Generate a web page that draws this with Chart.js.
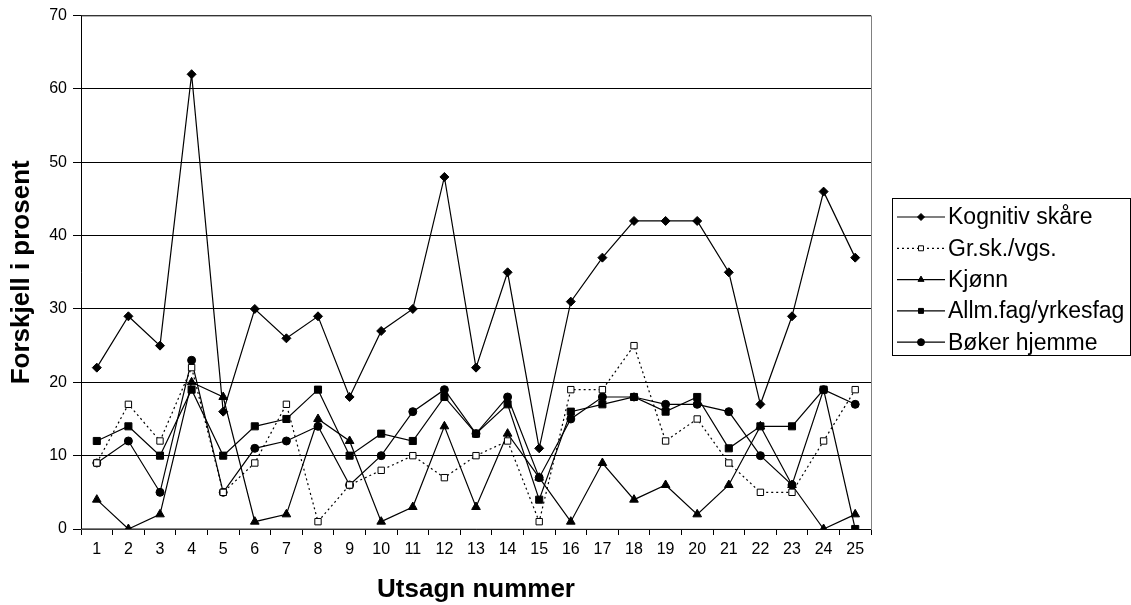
<!DOCTYPE html>
<html>
<head>
<meta charset="utf-8">
<script src="https://cdn.jsdelivr.net/npm/chart.js@4/dist/chart.umd.min.js"></script>
<style>
  html, body { margin: 0; padding: 0; background: #fff; }
  #wrap { width: 1131px; height: 605px; position: relative; }
</style>
</head>
<body>
<div id="wrap"><canvas id="chartCanvas" width="1131" height="605"></canvas></div>
<script>
let labels = ['1','2','3','4','5','6','7','8','9','10','11','12','13','14','15','16','17','18','19','20','21','22','23','24','25'];
let yTicks = [0, 10, 20, 30, 40, 50, 60, 70];

let kognitiv = [22, 29, 25, 62, 16, 30, 26, 29, 18, 27, 30, 48, 22, 35, 11, 31, 37, 42, 42, 42, 35, 17, 29, 46, 37];
let grskVgs  = [9, 17, 12, 22, 5, 9, 17, 1, 6, 8, 10, 7, 10, 12, 1, 19, 19, 25, 12, 15, 9, 5, 5, 12, 19];
let kjonn    = [4, 0, 2, 20, 18, 1, 2, 15, 12, 1, 3, 14, 3, 13, 7, 1, 9, 4, 6, 2, 6, 14, 6, 0, 2];
let allmFag  = [12, 14, 10, 19, 10, 14, 15, 19, 10, 13, 12, 18, 13, 17, 4, 16, 17, 18, 16, 18, 11, 14, 14, 19, 0];
let boker    = [9, 12, 5, 23, 5, 11, 12, 14, 6, 10, 16, 19, 13, 18, 7, 15, 18, 18, 17, 17, 16, 10, 6, 19, 17];

let seriesNames = ['Kognitiv skåre', 'Gr.sk./vgs.', 'Kjønn', 'Allm.fag/yrkesfag', 'Bøker hjemme'];

let makeSet = function (name, values, style, radius, fill, dash) {
    return {
        label: name,
        data: values,
        borderColor: '#000',
        borderWidth: 1.2,
        borderDash: dash || [],
        pointStyle: style,
        pointRadius: radius,
        pointBackgroundColor: fill,
        pointBorderColor: '#000',
        pointBorderWidth: 1,
        tension: 0,
        fill: false
    };
};

let datasets = [
    makeSet(seriesNames[0], kognitiv, 'rectRot', 4.5, '#000'),
    makeSet(seriesNames[1], grskVgs, 'rect', 4.5, '#fff', [2, 3]),
    makeSet(seriesNames[2], kjonn, 'triangle', 5, '#000'),
    makeSet(seriesNames[3], allmFag, 'rect', 5, '#000'),
    makeSet(seriesNames[4], boker, 'circle', 4, '#000')
];

// plot border and custom Excel-like legend
let excelLegend = {
    id: 'excelLegend',
    beforeDatasetsDraw: function (chart) {
        let a = chart.chartArea;
        let ctx = chart.ctx;
        ctx.save();
        ctx.strokeStyle = '#808080';
        ctx.lineWidth = 1;
        ctx.strokeRect(a.left + 0.5, a.top + 0.5, a.right - a.left, a.bottom - a.top);
        ctx.strokeStyle = '#000';
        ctx.beginPath();
        ctx.moveTo(a.left + 0.5, a.top);
        ctx.lineTo(a.left + 0.5, a.bottom);
        ctx.lineTo(a.right, a.bottom + 0.5);
        ctx.stroke();
        ctx.restore();
    },
    afterDraw: function (chart) {
        let ctx = chart.ctx;
        let bx = 892, by = 198, bw = 238, bh = 157;
        ctx.save();
        ctx.strokeStyle = '#000';
        ctx.lineWidth = 1;
        ctx.strokeRect(bx + 0.5, by + 0.5, bw, bh);
        ctx.font = '23px "Liberation Sans", Arial, sans-serif';
        ctx.fillStyle = '#000';
        ctx.textBaseline = 'middle';
        chart.data.datasets.forEach(function (ds, i) {
            let y = 217 + i * 31.3;
            ctx.save();
            ctx.strokeStyle = '#000';
            ctx.lineWidth = 1.2;
            ctx.setLineDash(ds.borderDash);
            ctx.beginPath();
            ctx.moveTo(897, y);
            ctx.lineTo(945, y);
            ctx.stroke();
            ctx.setLineDash([]);
            ctx.fillStyle = ds.pointBackgroundColor;
            ctx.strokeStyle = '#000';
            ctx.lineWidth = 1;
            Chart.helpers.drawPoint(ctx, { pointStyle: ds.pointStyle, radius: 3.5, borderWidth: 1, rotation: 0 }, 921, y);
            ctx.restore();
            ctx.fillText(ds.label, 948, y + 1);
        });
        ctx.restore();
    }
};

let ctx = document.getElementById('chartCanvas').getContext('2d');

window.lineChart = new Chart(ctx, {
    type: 'line',
    data: { labels: labels, datasets: datasets },
    plugins: [excelLegend],
    options: {
        responsive: false,
        animation: false,
        layout: { padding: { left: 0, right: 260, top: 15, bottom: 0 } },
        plugins: {
            legend: { display: false },
            tooltip: { enabled: false }
        },
        scales: {
            x: {
                offset: true,
                afterFit: function (s) { s.height = 76; },
                grid: {
                    offset: true,
                    drawOnChartArea: false,
                    drawTicks: true,
                    tickLength: 6,
                    color: '#000'
                },
                border: { display: false },
                ticks: {
                    color: '#000',
                    font: { family: '"Liberation Sans", Arial', size: 16 },
                    padding: 5,
                    maxRotation: 0,
                    autoSkip: false
                },
                title: {
                    display: true,
                    text: 'Utsagn nummer',
                    color: '#000',
                    font: { family: '"Liberation Sans", Arial', size: 26, weight: 'bold' },
                    padding: { top: 8, bottom: 0 }
                }
            },
            y: {
                min: 0,
                max: 70,
                afterFit: function (s) { s.width = 81; },
                afterBuildTicks: function (s) { s.ticks = yTicks.map(function (v) { return { value: v }; }); },
                grid: {
                    color: '#000',
                    lineWidth: 1,
                    drawTicks: true,
                    tickLength: 8
                },
                border: { display: false },
                ticks: {
                    color: '#000',
                    font: { family: '"Liberation Sans", Arial', size: 16 },
                    padding: 6
                },
                title: {
                    display: true,
                    text: 'Forskjell i prosent',
                    color: '#000',
                    font: { family: '"Liberation Sans", Arial', size: 26, weight: 'bold' },
                    padding: { top: 6, bottom: 4 }
                }
            }
        }
    }
});
</script>
</body>
</html>
